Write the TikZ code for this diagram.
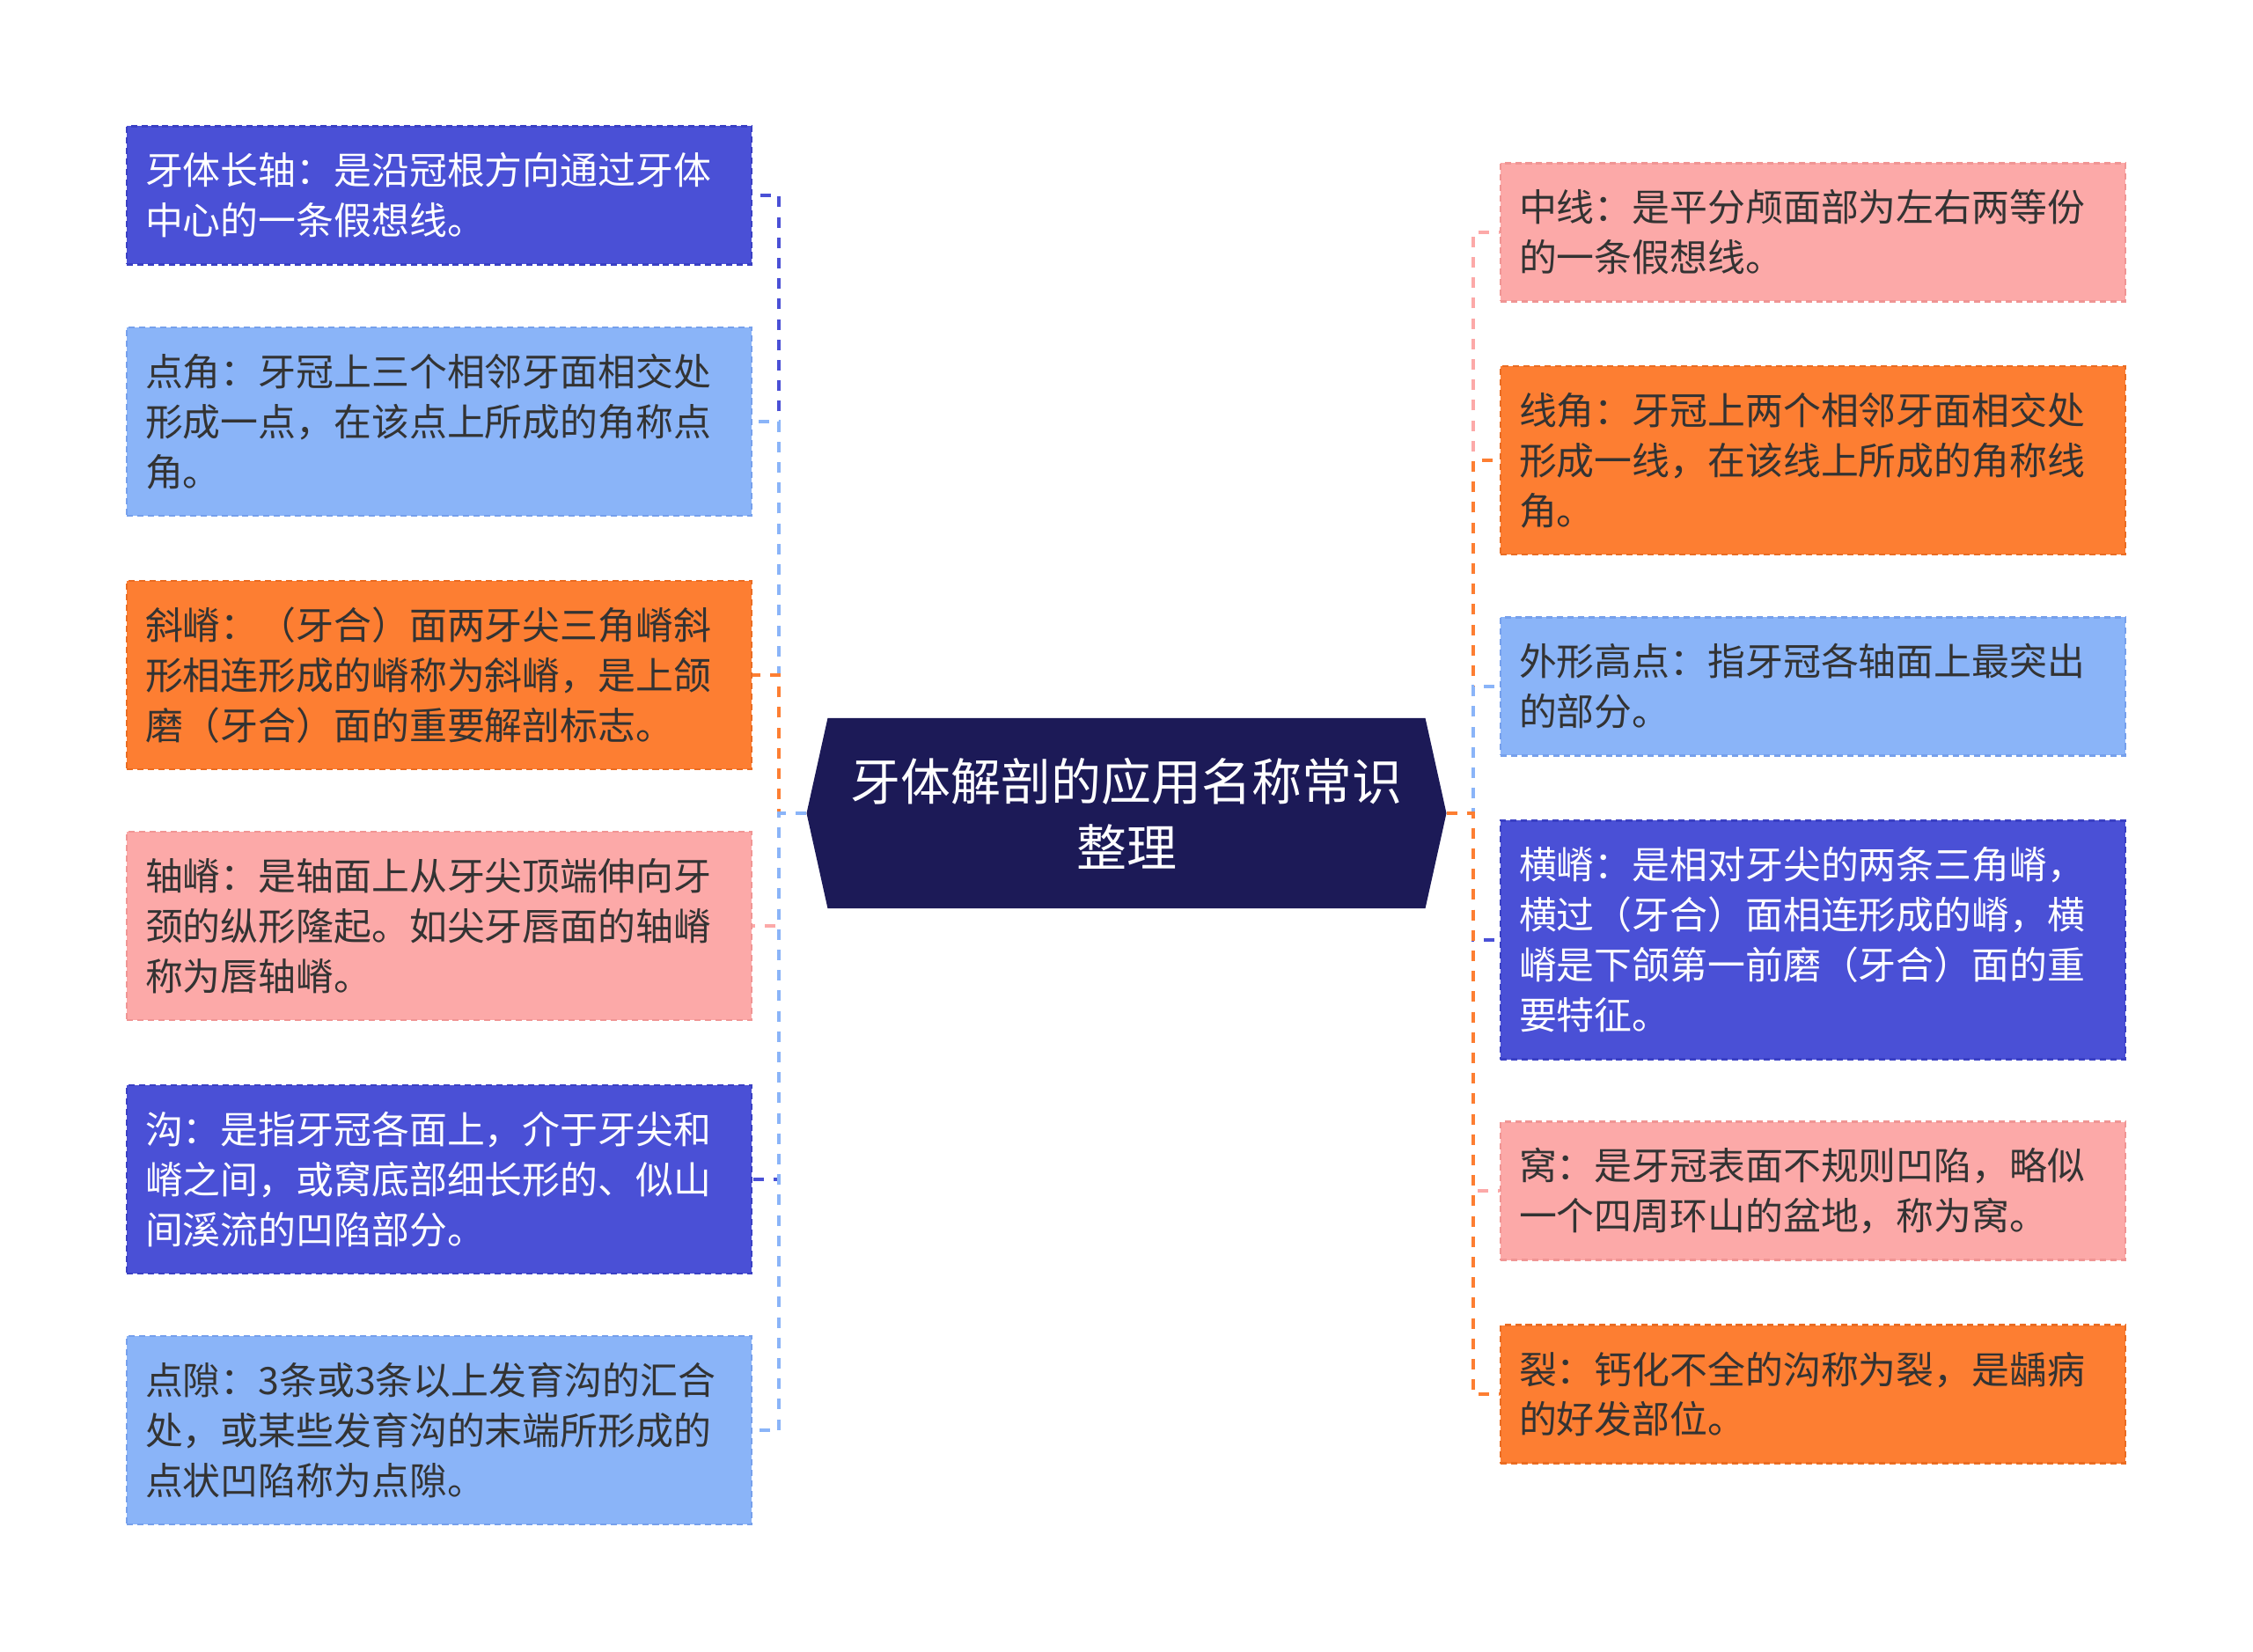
\documentclass[tikz,border=0pt]{standalone}
\usepackage{fontspec}
\setmainfont{Noto Sans CJK SC}
\usetikzlibrary{shapes.symbols}
\definecolor{cdark}{HTML}{4A50D6}
\definecolor{cdarkb}{HTML}{3A40C4}
\definecolor{clight}{HTML}{8AB4F8}
\definecolor{clightb}{HTML}{76A0EC}
\definecolor{corange}{HTML}{FD7E32}
\definecolor{corangeb}{HTML}{EA6C22}
\definecolor{cpink}{HTML}{FCA9A8}
\definecolor{cpinkb}{HTML}{F09594}
\definecolor{croot}{HTML}{1C1A57}
\definecolor{ctext}{HTML}{333333}
\begin{document}
\begin{tikzpicture}[
  leaf/.style = {rectangle, minimum width=7.1cm, text width=6.68cm, inner xsep=0.21cm,
    align=left, font=\fontsize{12.2}{16.2}\selectfont, dashed,
    dash pattern=on 2pt off 1.4pt, line width=0.6pt},
  darkleaf/.style = {leaf, fill=cdark, draw=cdarkb, text=white},
  lightleaf/.style = {leaf, fill=clight, draw=clightb, text=ctext},
  orangeleaf/.style = {leaf, fill=corange, draw=corangeb, text=ctext},
  pinkleaf/.style = {leaf, fill=cpink, draw=cpinkb, text=ctext},
  link/.style = {line width=1.15pt, dash pattern=on 3.4pt off 3.2pt},
  root/.style = {signal, signal to=west and east, signal pointer angle=155,
    fill=croot, text=white, minimum width=7.27cm, minimum height=2.16cm,
    inner sep=0pt, align=center, font=\fontsize{16.2}{21.3}\selectfont}
]
\useasboundingbox (0,0) rectangle (25.6,-18.77);

\node[root] (root) at (12.80,-9.24) {牙体解剖的应用名称常识\\整理};

\node[darkleaf, minimum height=1.57cm] (l1) at (4.99,-2.22) {牙体长轴：是沿冠根方向通过牙体\\中心的一条假想线。};
\node[lightleaf, minimum height=2.14cm] (l2) at (4.99,-4.79) {点角：牙冠上三个相邻牙面相交处\\形成一点，在该点上所成的角称点\\角。};
\node[orangeleaf, minimum height=2.14cm] (l3) at (4.99,-7.67) {斜嵴：（牙合）面两牙尖三角嵴斜\\形相连形成的嵴称为斜嵴，是上颌\\磨（牙合）面的重要解剖标志。};
\node[pinkleaf, minimum height=2.14cm] (l4) at (4.99,-10.52) {轴嵴：是轴面上从牙尖顶端伸向牙\\颈的纵形隆起。如尖牙唇面的轴嵴\\称为唇轴嵴。};
\node[darkleaf, minimum height=2.14cm] (l5) at (4.99,-13.40) {沟：是指牙冠各面上，介于牙尖和\\嵴之间，或窝底部细长形的、似山\\间溪流的凹陷部分。};
\node[lightleaf, minimum height=2.14cm] (l6) at (4.99,-16.25) {点隙：3条或3条以上发育沟的汇合\\处，或某些发育沟的末端所形成的\\点状凹陷称为点隙。};

\node[pinkleaf, minimum height=1.57cm] (r1) at (20.60,-2.64) {中线：是平分颅面部为左右两等份\\的一条假想线。};
\node[orangeleaf, minimum height=2.14cm] (r2) at (20.60,-5.23) {线角：牙冠上两个相邻牙面相交处\\形成一线，在该线上所成的角称线\\角。};
\node[lightleaf, minimum height=1.57cm] (r3) at (20.60,-7.80) {外形高点：指牙冠各轴面上最突出\\的部分。};
\node[darkleaf, minimum height=2.71cm] (r4) at (20.60,-10.68) {横嵴：是相对牙尖的两条三角嵴，\\横过（牙合）面相连形成的嵴，横\\嵴是下颌第一前磨（牙合）面的重\\要特征。};
\node[pinkleaf, minimum height=1.57cm] (r5) at (20.60,-13.53) {窝：是牙冠表面不规则凹陷，略似\\一个四周环山的盆地，称为窝。};
\node[orangeleaf, minimum height=1.57cm] (r6) at (20.60,-15.84) {裂：钙化不全的沟称为裂，是龋病\\的好发部位。};

\foreach \n/\c in {l1/cdark, l2/clight, l3/corange, l4/cpink, l5/cdark, l6/clight}
  {\draw[link, \c] (root.west) -- ++(-0.305,0) |- (\n.east);}
\foreach \n/\c in {r1/cpink, r2/corange, r3/clight, r4/cdark, r5/cpink, r6/corange}
  {\draw[link, \c] (root.east) -- ++(0.295,0) |- (\n.west);}

\end{tikzpicture}
\end{document}
